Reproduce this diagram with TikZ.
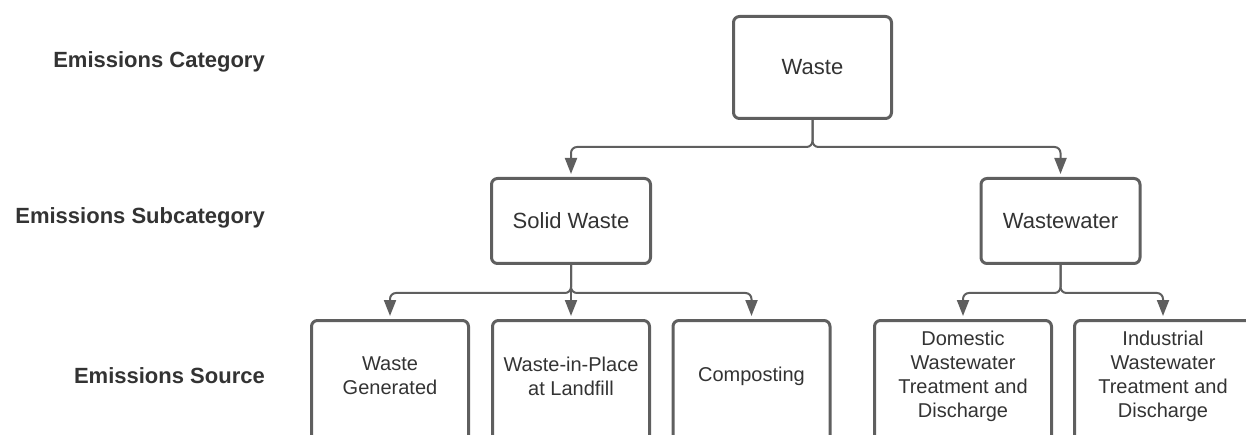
\documentclass[tikz,border=0pt]{standalone}
\usepackage{fontspec}
\setmainfont{Liberation Sans}
\usetikzlibrary{arrows.meta}
\definecolor{boxgray}{HTML}{5F5F5F}
\definecolor{txtgray}{HTML}{333333}
\begin{document}
\begin{tikzpicture}[x=1pt,y=-1pt,
  catbox/.style={draw=boxgray,line width=3pt,rounded corners=6pt,text=txtgray,font=\fontsize{22}{26}\selectfont,minimum width=158pt,minimum height=102pt},
  subbox/.style={catbox,minimum width=159pt,minimum height=85pt},
  srcbox/.style={draw=boxgray,line width=3pt,rounded corners=6pt,minimum width=157pt,minimum height=160pt,anchor=north},
  srctxt/.style={text=txtgray,font=\fontsize{20}{24}\selectfont,align=center},
  rowlab/.style={anchor=east,inner sep=0pt,text=txtgray,font=\fontsize{22}{26}\selectfont\bfseries},
  link/.style={draw=boxgray,line width=2pt,rounded corners=6pt,-{Triangle[width=12pt,length=16pt]},shorten >=3pt}]
\useasboundingbox (0,0) rectangle (1246,435);
\clip (0,0) rectangle (1246,435);
% row labels
\node[rowlab] (lcat) at (265,62) {Emissions Category};
\node[rowlab] (lsub) at (265,218) {Emissions Subcategory};
\node[rowlab] (lsrc) at (265,376) {Emissions Source};
% category and subcategories
\node[catbox] (waste) at (812.5,67.5) {Waste};
\node[subbox] (solid) at (571,221) {Solid Waste};
\node[subbox] (water) at (1060.5,221) {Wastewater};
% sources
\node[srcbox] (gen) at (390,319) {};
\node[srcbox] (wip) at (571,319) {};
\node[srcbox] (comp) at (751.5,319) {};
\node[srcbox,minimum width=177pt] (dom) at (963,319) {};
\node[srcbox,minimum width=177pt] (ind) at (1163,319) {};
\node[srctxt] (gentxt) at (390,376) {Waste\\Generated};
\node[srctxt] (wiptxt) at (571,376) {Waste-in-Place\\at Landfill};
\node[srctxt] (comptxt) at (751.5,376) {Composting};
\node[srctxt] (domtxt) at (963,376) {Domestic\\Wastewater\\Treatment and\\Discharge};
\node[srctxt] (indtxt) at (1163,376) {Industrial\\Wastewater\\Treatment and\\Discharge};
% connectors
\draw[link] (waste.south) -- ++(0,27) -| (solid.north);
\draw[link] (waste.south) -- ++(0,27) -| (water.north);
\draw[link] (solid.south) -- ++(0,28) -| (gen.north);
\draw[link] (solid.south) -- (wip.north);
\draw[link] (solid.south) -- ++(0,28) -| (comp.north);
\draw[link] (water.south) -- ++(0,28) -| (dom.north);
\draw[link] (water.south) -- ++(0,28) -| (ind.north);
\end{tikzpicture}
\end{document}
